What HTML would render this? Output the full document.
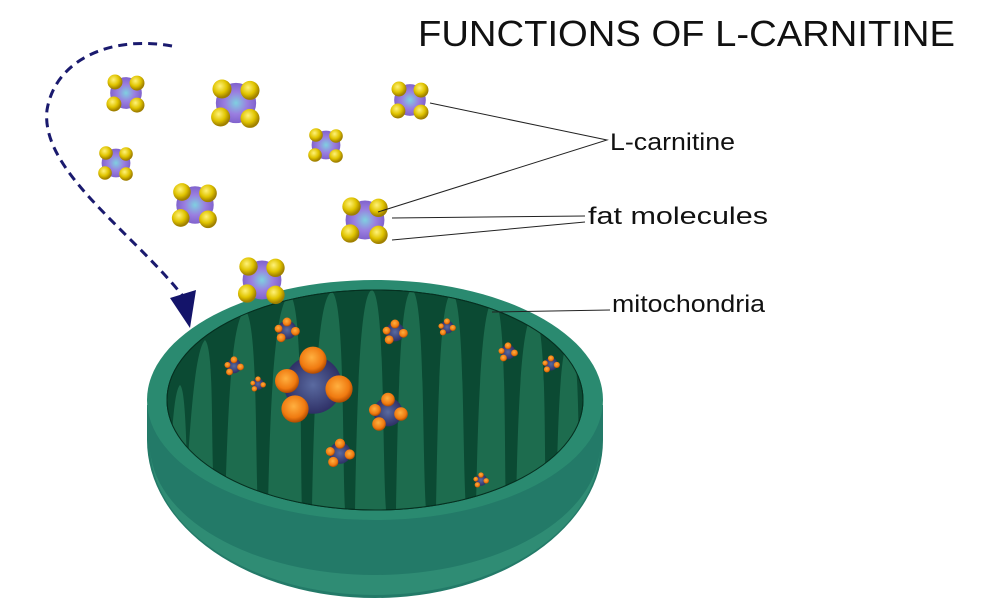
<!DOCTYPE html>
<html><head><meta charset="utf-8"><style>
body{margin:0;background:#fff;width:1000px;height:608px;overflow:hidden;font-family:"Liberation Sans",sans-serif}
svg{position:absolute;left:0;top:0}
</style></head><body>
<svg width="1000" height="608" viewBox="0 0 1000 608">
<defs>
<radialGradient id="py" cx="40%" cy="35%" r="60%"><stop offset="0" stop-color="#fff27a"/><stop offset="0.6" stop-color="#e0c400"/><stop offset="1" stop-color="#a08000"/></radialGradient>
<radialGradient id="pp" cx="50%" cy="50%" r="55%"><stop offset="0" stop-color="#7fd0e0"/><stop offset="0.5" stop-color="#9a7ee0"/><stop offset="1" stop-color="#7a5cc8"/></radialGradient>
<radialGradient id="po" cx="45%" cy="40%" r="60%"><stop offset="0" stop-color="#ffb040"/><stop offset="0.7" stop-color="#f07a10"/><stop offset="1" stop-color="#b04a00"/></radialGradient>
<radialGradient id="pn" cx="50%" cy="50%" r="55%"><stop offset="0" stop-color="#5a6aa0"/><stop offset="1" stop-color="#2a2a60"/></radialGradient>
<g id="m"><circle r="0.72" fill="url(#pp)"/><circle cx="-0.5" cy="-0.5" r="0.34" fill="url(#py)"/><circle cx="0.5" cy="-0.45" r="0.34" fill="url(#py)"/><circle cx="-0.55" cy="0.5" r="0.34" fill="url(#py)"/><circle cx="0.5" cy="0.55" r="0.34" fill="url(#py)"/></g>
<g id="f"><circle r="0.72" fill="url(#pn)"/><circle cx="0" cy="-0.62" r="0.34" fill="url(#po)"/><circle cx="0.65" cy="0.1" r="0.34" fill="url(#po)"/><circle cx="-0.45" cy="0.6" r="0.34" fill="url(#po)"/><circle cx="-0.65" cy="-0.1" r="0.3" fill="url(#po)"/></g>
<clipPath id="inner"><ellipse cx="375" cy="400" rx="208" ry="110"/></clipPath>
</defs>
<path d="M147,405 L147,440 A228,158 0 0 0 603,440 L603,405 Z" fill="#237a68"/>
<path d="M150,445 A225,130 0 0 0 600,445 A225,150 0 0 1 150,445Z" fill="#2f8c74"/>
<ellipse cx="375" cy="400" rx="228" ry="120" fill="#2a8a70"/>
<ellipse cx="375" cy="400" rx="208" ry="110" fill="#0b4a33" stroke="#063020"/>
<g clip-path="url(#inner)" fill="#1d6c4e">
<path d="M185,510 C190,420 195,350 205,340 C215,350 210,450 215,510Z"/>
<path d="M225,510 C228,400 232,320 245,310 C258,320 255,450 258,510Z"/>
<path d="M268,510 C270,400 275,300 290,295 C303,305 300,450 302,510Z"/>
<path d="M312,510 C314,400 318,295 332,292 C345,300 342,450 345,510Z"/>
<path d="M355,510 C357,400 360,292 372,290 C385,295 382,450 386,510Z"/>
<path d="M396,510 C398,400 400,292 412,290 C425,295 422,450 426,510Z"/>
<path d="M436,510 C438,400 440,295 452,293 C465,298 462,450 466,510Z"/>
<path d="M476,510 C478,400 482,300 494,300 C507,305 504,450 506,510Z"/>
<path d="M516,510 C518,400 522,315 534,315 C547,320 544,450 546,510Z"/>
<path d="M556,510 C558,420 560,340 570,340 C580,345 578,450 580,510Z"/>
<path d="M170,480 C172,420 175,390 180,385 C186,390 186,450 188,480Z"/>
</g>
<ellipse cx="375" cy="400" rx="208" ry="110" fill="none" stroke="#063020"/>
<path d="M172,46 C110,35 55,60 47,110 C40,170 130,230 182,295" fill="none" stroke="#1a1a6e" stroke-width="3" stroke-dasharray="9,6"/>
<path d="M170,298 L196,290 L190,328 Z" fill="#14146a"/>
<use href="#m" transform="translate(126,93) scale(22)"/>
<use href="#m" transform="translate(236,103) scale(28)"/>
<use href="#m" transform="translate(410,100) scale(22)"/>
<use href="#m" transform="translate(326,145) scale(20)"/>
<use href="#m" transform="translate(116,163) scale(20)"/>
<use href="#m" transform="translate(195,205) scale(26)"/>
<use href="#m" transform="translate(365,220) scale(27)"/>
<use href="#m" transform="translate(262,280) scale(27)"/>
<use href="#f" transform="translate(313,385) scale(40)"/>
<use href="#f" transform="translate(388,412) scale(20)"/>
<use href="#f" transform="translate(287,330) scale(13)"/>
<use href="#f" transform="translate(395,332) scale(13)"/>
<use href="#f" transform="translate(447,327) scale(9)"/>
<use href="#f" transform="translate(508,352) scale(10)"/>
<use href="#f" transform="translate(551,364) scale(9)"/>
<use href="#f" transform="translate(234,366) scale(10)"/>
<use href="#f" transform="translate(258,384) scale(8)"/>
<use href="#f" transform="translate(340,453) scale(15)"/>
<use href="#f" transform="translate(481,480) scale(8)"/>
<g stroke="#222" stroke-width="1" fill="none">
<path d="M430,103 L607,140 L378,212"/>
<path d="M392,218 L585,216"/><path d="M392,240 L585,222"/>
<path d="M492,312 L610,310"/>
</g>
<text x="418" y="46" font-size="36" textLength="537" lengthAdjust="spacingAndGlyphs" fill="#111" font-family="Liberation Sans, sans-serif">FUNCTIONS OF L-CARNITINE</text>
<g font-size="24" fill="#111" font-family="Liberation Sans, sans-serif">
<text x="610" y="150" textLength="125" lengthAdjust="spacingAndGlyphs">L-carnitine</text>
<text x="588" y="224" textLength="180" lengthAdjust="spacingAndGlyphs">fat molecules</text>
<text x="612" y="312" textLength="153" lengthAdjust="spacingAndGlyphs">mitochondria</text>
</g>
</svg>
</body></html>
